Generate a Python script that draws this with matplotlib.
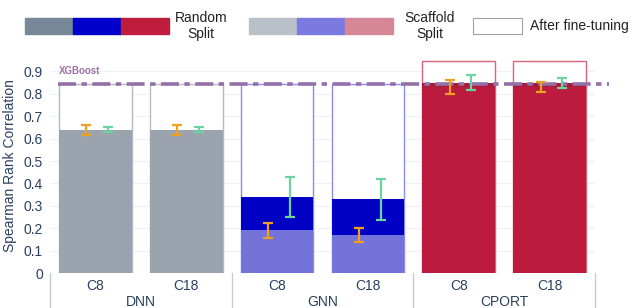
import matplotlib.pyplot as plt
import matplotlib.transforms as mtransforms
from matplotlib.patches import Rectangle

plt.rcParams['font.family'] = ['Liberation Sans', 'DejaVu Sans']

# data
models = ['DNN', 'GNN', 'CPORT']
columns = ['C8', 'C18']
random_split = [0.64, 0.64, 0.34, 0.33, 0.85, 0.85]
random_err = [0.012, 0.012, 0.09, 0.092, 0.032, 0.022]
scaffold_split = [0.64, 0.64, 0.19, 0.17, 0.83, 0.83]
scaffold_err = [0.023, 0.022, 0.032, 0.032, 0.031, 0.022]
finetuned = [0.845, 0.845, 0.845, 0.845, 0.945, 0.945]
xgboost = 0.842

tick_labels = columns * len(models)
random_colors = ['#9BA4AE', '#9BA4AE', '#0000C4', '#0000C4', '#A81C3B', '#A81C3B']
scaffold_colors = ['#9BA4AE', '#9BA4AE', '#7373D9', '#7373D9', '#BB1B3D', '#BB1B3D']
outline_colors = ['#B4BAC4', '#B4BAC4', '#8C8CF0', '#8C8CF0', '#D8647C', '#D8647C']
legend_random = ['#778899', '#0000CD', '#BE1E3C']
legend_scaffold = ['#BAC0C8', '#7B7BDF', '#D68795']

txt = '#2A3F5F'
x = list(range(len(tick_labels)))

fig = plt.figure(figsize=(6.33, 3.08), dpi=100)
ax = fig.add_axes([0.079, 0.1136, 0.861, 0.698])

ax.bar(x, finetuned, width=0.8, color='white', edgecolor=outline_colors, linewidth=1, zorder=2)
ax.bar(x, random_split, width=0.8, color=random_colors, linewidth=0, zorder=3)
ax.bar(x, scaffold_split, width=0.8, color=scaffold_colors, linewidth=0, zorder=4)

ax.plot([-0.41, 5.65], [xgboost, xgboost], color='#9470A8', lw=2.6,
        dashes=(5, 1.5, 1.5, 1.5), zorder=5, clip_on=False)
ax.text(-0.4, 0.9, 'XGBoost', color='#A070A8', fontsize=7, fontweight='bold',
        va='center', ha='left', zorder=6)

ax.errorbar([i - 0.1 for i in x], scaffold_split, yerr=scaffold_err, fmt='none',
            ecolor='#F0A020', elinewidth=1.6, capsize=3.5, capthick=1.6, zorder=7)
ax.errorbar([i + 0.14 for i in x], random_split, yerr=random_err, fmt='none',
            ecolor='#6CD4A0', elinewidth=1.6, capsize=3.8, capthick=1.6, zorder=7)

ax.set_xlim(-0.5, 5.5)
ax.set_ylim(0, 0.96)
ax.set_yticks([i / 10 for i in range(10)])
ax.set_yticklabels(['0'] + [f'{i / 10:.1f}' for i in range(1, 10)])
ax.grid(axis='y', color='#EEF1F6', lw=0.8, zorder=0)
ax.set_axisbelow(True)
for s in ax.spines.values():
    s.set_visible(False)
ax.tick_params(axis='y', length=0, labelsize=10, labelcolor=txt, pad=5)
ax.set_xticks(x)
ax.set_xticklabels(tick_labels)
ax.tick_params(axis='x', length=0, labelsize=10, labelcolor=txt, pad=4)
ax.set_ylabel('Spearman Rank Correlation', fontsize=10, color=txt, labelpad=5)

trans = mtransforms.blended_transform_factory(ax.transData, ax.transAxes)
for sx in [-0.5, 1.5, 3.5, 5.5]:
    ax.plot([sx, sx], [0, -0.17], color='#C8CCD2', lw=1, transform=trans, clip_on=False)
for i, m in enumerate(models):
    ax.text(2 * i + 0.5, -0.135, m, transform=trans, ha='center', va='center',
            fontsize=10, color=txt)

# legend
def px(xp, yp):
    return xp / 633, 1 - yp / 308

for k, c in enumerate(legend_random):
    fig.patches.append(Rectangle(px(25 + 48 * k, 34), 48 / 633, 16 / 308, color=c,
                                 transform=fig.transFigure))
for k, c in enumerate(legend_scaffold):
    fig.patches.append(Rectangle(px(249 + 48 * k, 34), 48 / 633, 16 / 308, color=c,
                                 transform=fig.transFigure))
fig.patches.append(Rectangle(px(473, 34), 49 / 633, 16 / 308, facecolor='white',
                             edgecolor='#A0A0A0', lw=0.8, transform=fig.transFigure))
fig.text(*px(201, 26), 'Random\nSplit', ha='center', va='center', fontsize=10,
         color='#222222', linespacing=1.15)
fig.text(*px(430, 26), 'Scaffold\nSplit', ha='center', va='center', fontsize=10,
         color='#222222', linespacing=1.15)
fig.text(*px(530, 26), 'After fine-tuning', ha='left', va='center', fontsize=10,
         color='#222222')

fig.savefig('out.png', dpi=100)
